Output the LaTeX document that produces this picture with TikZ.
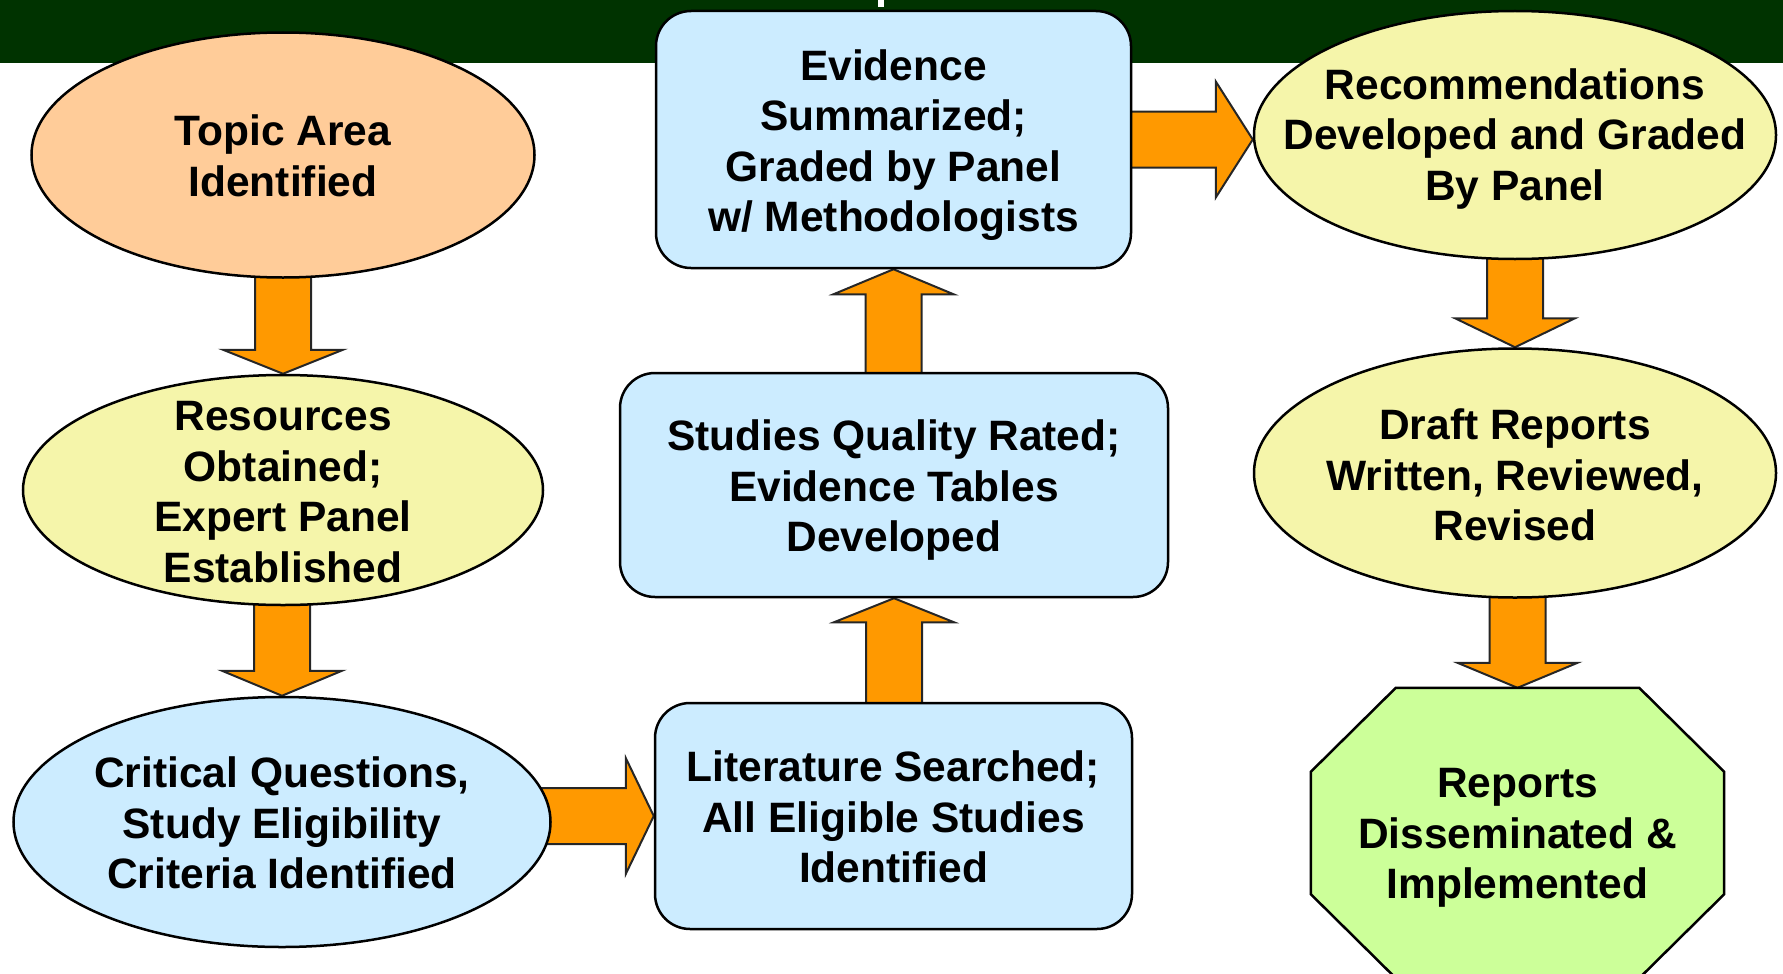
\documentclass[tikz,border=0pt]{standalone}
\usepackage{fontspec}
\setmainfont{Liberation Sans}
\usetikzlibrary{shapes.geometric,calc,backgrounds}
\definecolor{barcol}{HTML}{003300}
\definecolor{peach}{HTML}{FFCC99}
\definecolor{paleyellow}{HTML}{F5F5AA}
\definecolor{paleblue}{HTML}{CCECFF}
\definecolor{palegreen}{HTML}{CCFF99}
\definecolor{arroworange}{HTML}{FF9900}
\tikzset{
  shapebase/.style={draw=black, line width=2.5pt, inner sep=0pt},
  ell/.style={shapebase, ellipse},
  rbox/.style={shapebase, rectangle, rounded corners=35pt},
  txt/.style={align=center, inner sep=0pt, font=\fontsize{42.5}{50.5}\selectfont\bfseries},
  fat/.style={fill=arroworange, draw=black!85, line width=2pt, line join=miter},
}
\newcommand\vfat[3][25]{%
  \draw[fat] let \p1=#2, \p2=#3, \n1={sign(\y1-\y2)} in
  ({\x2-28pt},\y1) -- ({\x2-28pt},{\y2+\n1*#1pt}) -- ({\x2-60pt},{\y2+\n1*#1pt}) --
  (\x2,\y2) -- ({\x2+60pt},{\y2+\n1*#1pt}) -- ({\x2+28pt},{\y2+\n1*#1pt}) --
  ({\x2+28pt},\y1) -- cycle;}
\newcommand\hfat[3][28]{%
  \draw[fat] let \p1=#2, \p2=#3, \n1={sign(\x1-\x2)} in
  (\x1,{\y2+28pt}) -- ({\x2+\n1*#1pt},{\y2+28pt}) -- ({\x2+\n1*#1pt},{\y2+58pt}) --
  (\x2,\y2) -- ({\x2+\n1*#1pt},{\y2-58pt}) -- ({\x2+\n1*#1pt},{\y2-28pt}) --
  (\x1,{\y2-28pt}) -- cycle;}
\begin{document}
\begin{tikzpicture}[x=1pt,y=-1pt]
\useasboundingbox (0,0) rectangle (1783,974);
% shapes
\node[ell, fill=peach, minimum width=503pt, minimum height=245pt] (topic) at (283,155) {};
\node[ell, fill=paleyellow, minimum width=520pt, minimum height=230pt] (res) at (283,490) {};
\node[ell, fill=paleblue, minimum width=537pt, minimum height=250pt] (crit) at (282,822) {};
\node[rbox, fill=paleblue, minimum width=475pt, minimum height=257pt] (evid) at (893.5,139.5) {};
\node[rbox, fill=paleblue, minimum width=548pt, minimum height=224pt] (stud) at (894,485) {};
\node[rbox, fill=paleblue, minimum width=477pt, minimum height=226pt] (lit) at (893.5,816) {};
\node[ell, fill=paleyellow, minimum width=522pt, minimum height=248pt] (recs) at (1515,135) {};
\node[ell, fill=paleyellow, minimum width=522pt, minimum height=249pt] (draft) at (1515,473) {};
% octagon (outline drawn from the node's corners)
\node[inner sep=0pt, minimum width=413pt, minimum height=290pt] (rep) at (1517.5,833) {};
\draw[shapebase, fill=palegreen]
  ([xshift=85pt]rep.north west) -- ([xshift=-85pt]rep.north east) --
  ([yshift=-84pt]rep.north east) -- ([yshift=84pt]rep.south east) --
  ([xshift=-85pt]rep.south east) -- ([xshift=85pt]rep.south west) --
  ([yshift=84pt]rep.south west) -- ([yshift=-84pt]rep.north west) -- cycle;
% texts
\node[txt] (topic-t) at (283,156) {Topic Area\\Identified};
\node[txt] (res-t) at (283,492) {Resources\\Obtained;\\Expert Panel\\Established};
\node[txt] (crit-t) at (282,823) {Critical Questions,\\Study Eligibility\\Criteria Identified};
\node[txt] (evid-t) at (893.5,145) {Evidence\\Summarized;\\Graded by Panel\\w/ Methodologists};
\node[txt] (stud-t) at (894,490.5) {Studies Quality Rated;\\Evidence Tables\\Developed};
\node[txt] (lit-t) at (893.5,817) {Literature Searched;\\All Eligible Studies\\Identified};
\node[txt] (recs-t) at (1515,139) {Recommendations\\Developed and Graded\\By Panel};
\node[txt] (draft-t) at (1515,475) {Draft Reports\\Written, Reviewed,\\Revised};
\node[txt] (rep-t) at (1517.5,838) {Reports\\Disseminated \&\\Implemented};
% background: bar and block arrows
\begin{scope}[on background layer]
  \fill[barcol] (0,0) rectangle (1783,63);
  \fill[white] (878,0) rectangle (884,7);
  \vfat[24]{(topic)}{(res.north)}
  \vfat{(res)}{(crit.north)}
  \hfat{(crit)}{(lit.west)}
  \vfat[24]{(lit)}{(stud.south)}
  \vfat{(stud)}{(evid.south)}
  \hfat[37]{(evid)}{(recs.west |- evid)}
  \vfat[29]{(recs)}{(draft.north)}
  \vfat{(draft)}{(rep.north)}
\end{scope}
\end{tikzpicture}
\end{document}
